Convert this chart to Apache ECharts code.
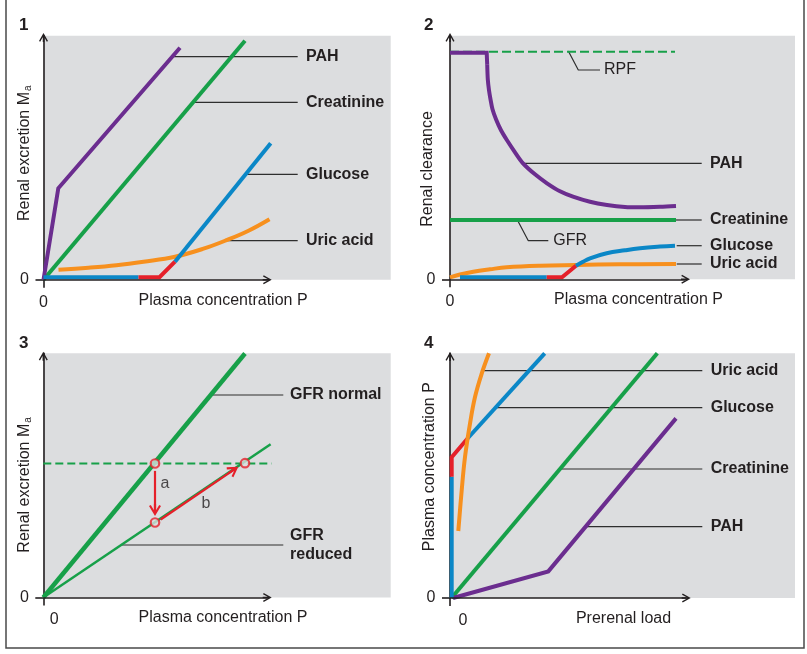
<!DOCTYPE html>
<html>
<head>
<meta charset="utf-8">
<script src="https://cdn.jsdelivr.net/npm/echarts@6/dist/echarts.min.js"></script>
<style>html,body{margin:0;padding:0;background:#fff}#c{width:807px;height:654px}</style>
</head>
<body>
<div id="c"></div>
<script>
// ---------- DATA (arbitrary units, origin = 0,0) ----------
// Panel 1: renal excretion vs plasma concentration
const p1PAH = [[0,0],[14.8,91.4],[136.5,232]];
const p1Creatinine = [[0,0],[201.5,239]];
const p1GlucoseFiltered = [[0,2.5],[95,2.5]];
const p1GlucoseThreshold = [[95,2.5],[116,2.5],[131.5,18]];
const p1GlucoseExcreted = [[131.5,18],[227.2,136.4]];
const p1UricAcid = [[15,10],[45,12],[73,14.5],[100,18],[131.5,23],[160,31],[183,39.5],[205,49],[226,60.5]];
const p1Leaders = [
  ['PAH', [[129.8,223],[254.2,223]]],
  ['Creatinine', [[149.8,177.4],[254.2,177.4]]],
  ['Glucose', [[201.5,105.4],[254.2,105.4]]],
  ['Uric acid', [[181.5,39],[254.2,39]]]
];

// Panel 2: renal clearance vs plasma concentration
const p2RPF = [[0,227.6],[225,227.6]];
const p2PAHPlateau = [[0,226.6],[36.7,226.6],[37.2,215]];
const p2PAHDecline = [[37.2,215],[37.8,200],[39,189],[40.5,180],[42.5,170],[46,160],[51,149],[57,139],[65,127],[73,116],[85,105],[97,96],[110,88],[123,82.6],[140,77.5],[157,74.3],[175,72.3],[190,72],[210,72.5],[226,73.3]];
const p2Creatinine = [[0,59.3],[226,59.3]];
const p2GlucoseFiltered = [[10,2],[96.7,2]];
const p2GlucoseThreshold = [[96.7,2],[112,2],[126,13.6]];
const p2GlucoseExcreted = [[126,13.6],[133,17.5],[140,21],[156.7,26],[175,29],[190,31],[210,32.7],[225,33.6]];
const p2UricAcid = [[0,2],[10,4.8],[23.3,7.6],[40,10],[56.7,12],[90,13.6],[126,14.3],[170,15],[226,15.3]];
const p2Leaders = [
  ['RPF', [[118.3,228.3],[128.3,209.3],[150,209.3]], false],
  ['PAH', [[73.3,116],[251.7,116]], true],
  ['Creatinine', [[226,59.3],[251.7,59.3]], true],
  ['GFR', [[68.3,57.6],[78.3,38.6],[98.3,38.6]], false],
  ['Glucose', [[226.7,33.6],[251.7,33.6]], true],
  ['Uric acid', [[226.7,15.3],[251.7,15.3]], true]
];

// Panel 3: GFR normal vs reduced
const p3GFRNormal = [[0,0],[201.7,244]];
const p3GFRReduced = [[0,0],[227.3,153.3]];
const p3SteadyExcretion = [[0,134],[228.3,134]];
const p3States = [[111.7,134],[201.7,134.3],[111.7,75]];
const p3ArrowA = [[111.7,126.6],[111.7,81.5]];   // start, tip
const p3ArrowB = [[117.4,78],[195,130.8]];       // start, tip
const p3ArrowLabels = [['a',[121.7,114.2]],['b',[162.7,93.5]]];
const p3Leaders = [
  ['GFR normal', [[166.7,202.5],[240,202.5]]],
  ['GFR\nreduced', [[78,52.5],[240,52.5]]]
];

// Panel 4: plasma concentration vs prerenal load
const p4GlucoseFiltered = [[1.7,0],[1.7,121.3]];
const p4GlucoseThreshold = [[1.7,121.3],[1.7,140.7],[18,160]];
const p4GlucoseExcreted = [[18,160],[94.7,244.7]];
const p4UricAcid = [[8.3,67],[11.7,107.7],[15,141],[20,174.4],[25,201],[31.7,224.4],[39,244.7]];
const p4Creatinine = [[1.5,0],[207.3,244.7]];
const p4PAH = [[3,0],[98.3,26.6],[226,179.6]];
const p4Leaders = [
  ['Uric acid', [[33.3,227.3],[252.3,227.3]]],
  ['Glucose', [[45,190.3],[252.3,190.3]]],
  ['Creatinine', [[111,129],[252.3,129]]],
  ['PAH', [[136.7,71.3],[252.3,71.3]]]
];

// Axes texts / ticks
const panelTitles = ['1','2','3','4'];
const xNames = ['Plasma concentration P','Plasma concentration P','Plasma concentration P','Prerenal load'];
const yNames = ['Renal excretion M{s|a}','Renal clearance','Renal excretion M{s|a}','Plasma concentration P'];
const tickValues = [0];
const xArrowTips = [228.2, 240, 228.4, 240.7];

// ---------- LAYOUT & STYLE ----------
const FONT = '"Liberation Sans", Arial, Helvetica, sans-serif';
const INK = '#231f20';
const C = {purple:'#6b2d8f', green:'#17a049', blue:'#0b87c7', orange:'#f7901e', red:'#e5202a', bg:'#dcdddf', lead:'#2e2e2e'};
const L = [
  {left:43.5, top:35.7, w:347.2, h:244.0, yOff:-1.8, yGap:10.5, yPad:[0,0,0,9],  xGap:12.5, xPad:12, zeroPad:0,  tl:19,  tt:17},
  {left:450,  top:35.7, w:345,   h:243.6, yOff:-1.8, yGap:14,   yPad:[0,23,0,0], xGap:12.5, xPad:32, zeroPad:0,  tl:424, tt:17},
  {left:43.3, top:353.3,w:347.4, h:244.2, yOff:-2.9, yGap:10.3, yPad:[0,19,0,0], xGap:11.7, xPad:12, zeroPad:22, tl:19,  tt:335},
  {left:450,  top:353.3,w:345,   h:244.7, yOff:-3.2, yGap:12,   yPad:[0,0,0,18], xGap:12.5, xPad:2,  zeroPad:26, tl:424, tt:335}
];
const ARROW_AXIS = 'path://M4.5,0 L9,8 L7.8,8.7 L4.5,2.7 L1.2,8.7 L0,8 Z M3.75,2 L5.25,2 L5.25,9 L3.75,9 Z';
const ARROW_RED = 'path://M6,0 L12,10 L10.2,11 L6,4 L1.8,11 L0,10 Z M4.9,3 L7.1,3 L7.1,12 L4.9,12 Z';
const RED_HALF = 6;
const txt = {color:INK, fontSize:16, fontFamily:FONT};

const grid = L.map(l => ({left:l.left, top:l.top, width:l.w, height:l.h, show:true, backgroundColor:C.bg, borderWidth:0, containLabel:false}));

const xAxis = L.map((l,i) => ({
  type:'value', gridIndex:i, min:0, max:l.w,
  axisLine:{show:false},
  axisTick:{show:true, customValues:tickValues, length:8, lineStyle:{color:INK, width:1.6}},
  axisLabel:Object.assign({show:true, customValues:tickValues, margin:14.5, padding:[0,0,0,l.zeroPad]}, txt),
  splitLine:{show:false},
  name:xNames[i], nameLocation:'middle', nameGap:l.xGap, nameMoveOverlap:false,
  nameTextStyle:Object.assign({padding:[0,0,0,l.xPad]}, txt)
}));

const yAxis = L.map((l,i) => ({
  type:'value', gridIndex:i, min:0, max:l.h,
  axisLine:{show:true, onZero:false, symbol:['none', ARROW_AXIS], symbolSize:[9,9], symbolOffset:[0,l.yOff], lineStyle:{color:INK, width:1.6}},
  axisTick:{show:true, customValues:tickValues, length:8, lineStyle:{color:INK, width:1.6}},
  axisLabel:Object.assign({show:true, customValues:tickValues, margin:14.5}, txt),
  splitLine:{show:false},
  name:yNames[i], nameLocation:'middle', nameRotate:90, nameGap:l.yGap, nameMoveOverlap:false,
  nameTextStyle:Object.assign({padding:l.yPad, rich:{s:{fontSize:10, verticalAlign:'bottom', color:INK, fontFamily:FONT, padding:[0,0,0,1]}}}, txt)
}));

function line(gi, data, color, width, extra) {
  return Object.assign({
    type:'line', xAxisIndex:gi, yAxisIndex:gi, data:data, symbol:'none', clip:false, silent:true, z:3,
    lineStyle:{color:color, width:width, cap:'butt', join:'miter'}
  }, extra || {});
}
function leader(gi, pts, text, bold, dist, extraLabel) {
  return {
    type:'line', xAxisIndex:gi, yAxisIndex:gi, data:pts, symbol:'none', clip:false, silent:true, z:2,
    lineStyle:{color:C.lead, width:1.2},
    endLabel:Object.assign({show:true, formatter:text, distance:dist, fontWeight:bold ? 'bold' : 'normal'}, txt, extraLabel || {})
  };
}
function axisArrow(gi) {
  return [{coord:[0,0]}, {coord:[xArrowTips[gi] - 4.5, 0]}];
}
function redArrow(a) {
  const s = a[0], t = a[1];
  const dx = t[0]-s[0], dy = t[1]-s[1], len = Math.hypot(dx,dy);
  return [{coord:s, symbol:'none'}, {coord:[t[0]-RED_HALF*dx/len, t[1]-RED_HALF*dy/len], symbol:ARROW_RED, symbolSize:[12,12]}];
}
function markAxis(gi) {
  return {
    silent:true, animation:false, symbol:['none', ARROW_AXIS], symbolSize:[9,9],
    label:{show:false}, lineStyle:{color:INK, width:1.6, type:'solid'},
    data:[axisArrow(gi)]
  };
}

const series = [];
// Panel 1
p1Leaders.forEach(d => series.push(leader(0, d[1], d[0], true, 8.3)));
series.push(line(0, p1Creatinine, C.green, 4, {markLine:markAxis(0)}));
series.push(line(0, p1PAH, C.purple, 4));
series.push(line(0, p1GlucoseFiltered, C.blue, 4));
series.push(line(0, p1UricAcid, C.orange, 4, {smooth:0.4}));
series.push(line(0, p1GlucoseThreshold, C.red, 4));
series.push(line(0, p1GlucoseExcreted, C.blue, 4));
// Panel 2
p2Leaders.forEach(d => series.push(leader(1, d[1], d[0], d[2], d[2] ? 8.3 : (d[0] === 'RPF' ? 4 : 5))));
series.push(line(1, p2RPF, C.green, 2, {lineStyle:{color:C.green, width:2, type:[9,4]}, markLine:markAxis(1)}));
series.push(line(1, p2PAHPlateau, C.purple, 4));
series.push(line(1, p2PAHDecline, C.purple, 4, {smooth:0.3}));
series.push(line(1, p2Creatinine, C.green, 4));
series.push(line(1, p2UricAcid, C.orange, 4, {smooth:0.4}));
series.push(line(1, p2GlucoseFiltered, C.blue, 4));
series.push(line(1, p2GlucoseThreshold, C.red, 4));
series.push(line(1, p2GlucoseExcreted, C.blue, 4, {smooth:0.4}));
// Panel 3
series.push(leader(2, p3Leaders[0][1], p3Leaders[0][0], true, 6.7));
series.push(leader(2, p3Leaders[1][1], p3Leaders[1][0], true, 6.7, {lineHeight:18.3, padding:[18.3,0,0,0]}));
series.push(line(2, p3SteadyExcretion, C.green, 2, {lineStyle:{color:C.green, width:2, type:[8,4]}}));
series.push(line(2, p3GFRNormal, C.green, 4.5, {markLine:markAxis(2)}));
series.push(line(2, p3GFRReduced, C.green, 2.5, {markLine:{
  silent:true, animation:false, symbol:['none', ARROW_RED], symbolSize:[12,12],
  label:{show:false}, lineStyle:{color:C.red, width:2.2, type:'solid'},
  data:[redArrow(p3ArrowA), redArrow(p3ArrowB)]
}}));
series.push({type:'scatter', xAxisIndex:2, yAxisIndex:2, data:p3States, symbol:'circle', symbolSize:8.5, silent:true, z:5,
  itemStyle:{color:C.bg, borderColor:C.red, borderWidth:2.2}});
series.push({type:'scatter', xAxisIndex:2, yAxisIndex:2, silent:true, z:5, symbolSize:1,
  itemStyle:{color:'rgba(0,0,0,0)'},
  data:p3ArrowLabels.map(d => ({value:d[1], label:{formatter:d[0]}})),
  label:Object.assign({show:true, position:'inside'}, txt)});
// Panel 4
p4Leaders.forEach(d => series.push(leader(3, d[1], d[0], true, 8.4)));
series.push(line(3, p4Creatinine, C.green, 4, {markLine:markAxis(3)}));
series.push(line(3, p4PAH, C.purple, 4));
series.push(line(3, p4GlucoseFiltered, C.blue, 4));
series.push(line(3, p4GlucoseThreshold, C.red, 4));
series.push(line(3, p4GlucoseExcreted, C.blue, 4));
series.push(line(3, p4UricAcid, C.orange, 4, {smooth:0.4}));

const title = panelTitles.map((t,i) => ({text:t, left:L[i].tl, top:L[i].tt, padding:0,
  textStyle:{fontSize:17, fontWeight:'bold', color:INK, fontFamily:FONT}}));

const chart = echarts.init(document.getElementById('c'), null, {renderer:'canvas'});
chart.setOption({
  animation:false,
  backgroundColor:'#ffffff',
  textStyle:{fontFamily:FONT},
  title:title,
  grid:grid,
  xAxis:xAxis,
  yAxis:yAxis,
  series:series,
  graphic:[{type:'polyline', silent:true, shape:{points:[[6,-2],[6,648],[804,648],[804,-2]]},
    style:{fill:null, stroke:'#4a4a4a', lineWidth:1.5}}]
});
</script>
</body>
</html>
